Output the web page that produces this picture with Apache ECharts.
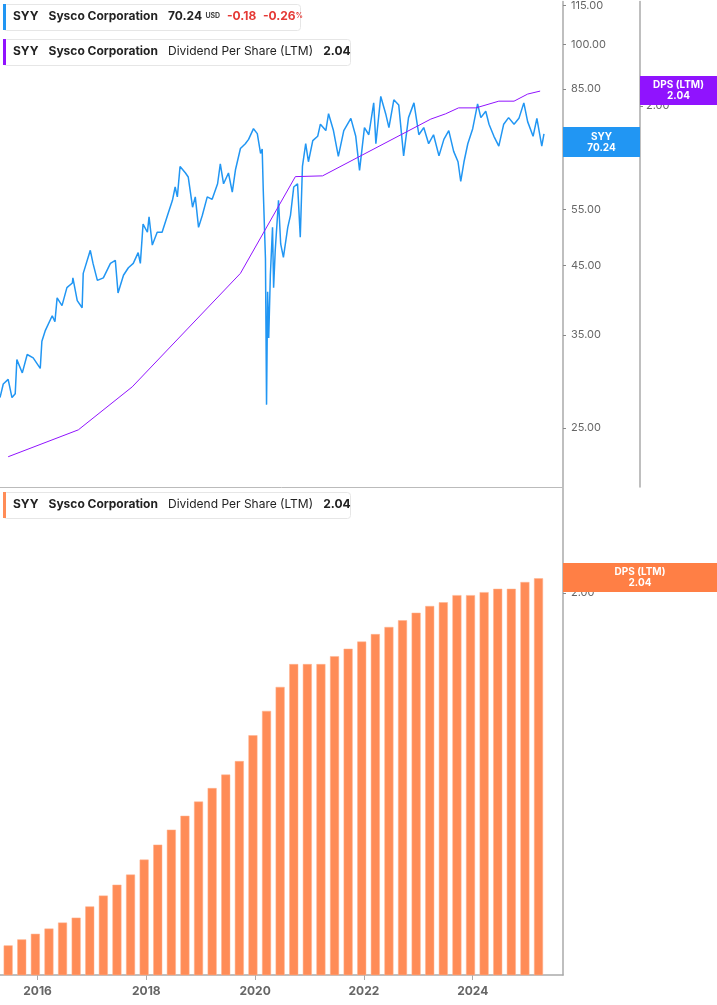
<!DOCTYPE html>
<html>
<head>
<meta charset="utf-8">
<script src="https://cdn.jsdelivr.net/npm/echarts@6/dist/echarts.min.js"></script>
<style>
  html, body { margin: 0; padding: 0; background: #fff; }
  #chart { width: 717px; height: 1005px; }
</style>
</head>
<body>
<div id="chart"></div>
<script>
// Precio de cierre SYY (años decimales / USD)
const priceYears = [2015.31,2015.37,2015.46,2015.53,2015.59,2015.62,2015.72,2015.81,2015.92,2016.05,2016.08,2016.14,2016.27,2016.32,2016.36,2016.45,2016.54,2016.64,2016.65,2016.73,2016.82,2016.84,2016.97,2017.02,2017.10,2017.21,2017.34,2017.43,2017.48,2017.58,2017.67,2017.76,2017.85,2017.89,2017.94,2018.02,2018.05,2018.11,2018.20,2018.29,2018.39,2018.48,2018.53,2018.57,2018.62,2018.72,2018.77,2018.85,2018.90,2018.96,2019.03,2019.12,2019.21,2019.31,2019.36,2019.42,2019.51,2019.58,2019.64,2019.73,2019.82,2019.88,2019.97,2020.04,2020.10,2020.13,2020.15,2020.19,2020.21,2020.23,2020.25,2020.28,2020.32,2020.34,2020.37,2020.43,2020.47,2020.52,2020.60,2020.65,2020.71,2020.78,2020.83,2020.87,2020.93,2020.98,2021.06,2021.15,2021.20,2021.30,2021.35,2021.44,2021.53,2021.63,2021.76,2021.85,2021.92,2022.01,2022.09,2022.18,2022.22,2022.31,2022.40,2022.46,2022.55,2022.64,2022.73,2022.82,2022.92,2023.01,2023.10,2023.19,2023.28,2023.38,2023.47,2023.56,2023.65,2023.73,2023.78,2023.84,2023.91,2024.00,2024.09,2024.15,2024.24,2024.30,2024.39,2024.48,2024.57,2024.66,2024.76,2024.85,2024.94,2025.01,2025.11,2025.18,2025.27,2025.31];
const priceValues = [27.9,29.3,29.8,27.9,28.3,32.0,30.5,32.6,32.2,31.0,34.2,35.5,37.5,36.7,40.0,38.9,41.5,42.2,43.0,39.6,38.6,43.7,47.5,45.3,42.6,43.0,45.3,45.8,40.7,43.4,44.6,45.3,47.1,45.3,52.2,50.7,53.6,48.4,50.7,50.7,53.9,56.9,59.7,57.6,64.3,62.8,61.9,55.5,57.6,51.6,53.9,57.6,57.1,60.4,64.9,60.4,62.8,58.6,63.6,68.6,69.8,70.9,73.7,72.4,67.4,68.5,58.9,46.1,27.2,40.9,34.6,43.4,51.6,41.5,47.5,56.9,48.6,46.3,51.6,53.9,59.7,60.4,49.8,64.3,69.8,65.4,70.6,71.7,74.9,73.2,77.8,73.2,66.7,73.2,76.5,71.7,63.4,74.0,72.1,80.9,69.8,82.8,77.8,74.0,81.8,80.3,66.8,76.7,80.9,72.1,74.0,69.8,72.1,66.8,70.9,73.2,67.9,65.4,60.9,65.4,69.8,73.7,80.6,76.7,78.5,74.9,71.7,69.2,74.9,76.7,74.9,76.5,80.9,75.6,71.7,76.5,69.2,72.3];

// Línea DPS (LTM) del panel superior
const dpsLineYears = [2015.46,2016.75,2017.74,2019.73,2020.74,2021.24,2023.23,2023.50,2023.74,2024.06,2024.48,2024.76,2025.01,2025.24];
const dpsLineValues = [1.061,1.133,1.248,1.552,1.811,1.813,1.965,1.979,1.995,1.995,2.013,2.013,2.032,2.040];

// Barras trimestrales DPS (LTM)
const barYears = [2015.46,2015.71,2015.96,2016.21,2016.46,2016.71,2016.96,2017.21,2017.46,2017.71,2017.96,2018.21,2018.46,2018.71,2018.96,2019.21,2019.46,2019.71,2019.96,2020.21,2020.46,2020.71,2020.96,2021.21,2021.46,2021.71,2021.96,2022.21,2022.46,2022.71,2022.96,2023.21,2023.46,2023.71,2023.96,2024.21,2024.46,2024.71,2024.96,2025.21];
const barValues = [1.059,1.075,1.090,1.104,1.120,1.133,1.163,1.192,1.221,1.248,1.288,1.328,1.368,1.405,1.443,1.479,1.515,1.551,1.620,1.685,1.749,1.810,1.810,1.810,1.831,1.851,1.870,1.890,1.909,1.927,1.947,1.965,1.975,1.994,1.994,2.002,2.011,2.011,2.029,2.039];

const yearTicks = [2016, 2018, 2020, 2022, 2024];
const priceTicks = [25, 35, 45, 55, 70, 85, 100, 115];

const BLUE = '#2196f3', PURPLE = '#9013fe', ORANGE = '#ff8c57';
const FONT = 'Inter, "Noto Sans", sans-serif';

const chart = echarts.init(document.getElementById('chart'));

const pairs = (xs, ys) => xs.map((x, i) => [x, ys[i]]);

function legendBox(y, w, color, parts) {
  return [
    { type: 'rect', left: 3, top: y, shape: { width: w, height: 26, r: 3 },
      style: { fill: '#fff', stroke: '#e6e6e6', lineWidth: 1 }, z: 50 },
    { type: 'rect', left: 3, top: y, shape: { width: 3, height: 26 }, style: { fill: color }, z: 51 },
    { type: 'text', left: 13, top: y + 6, z: 52,
      style: { text: parts, font: '12px ' + FONT, fill: '#222',
        rich: {
          b: { fontWeight: 'bold', fontSize: 12, fontFamily: FONT, fill: '#222' },
          n: { fontSize: 12, fontFamily: FONT, fill: '#222' },
          s: { fontSize: 7, fontFamily: FONT, fill: '#444', fontWeight: 'bold' },
          r: { fontSize: 12, fontFamily: FONT, fill: '#e53935', fontWeight: 'bold' },
          rs: { fontSize: 7, fontFamily: FONT, fill: '#e53935', fontWeight: 'bold' }
        } } }
  ];
}

function tag(x, y, w, h, color, t) {
  return [
    { type: 'rect', left: x, top: y, shape: { width: w, height: h }, style: { fill: color }, z: 60 },
    { type: 'text', x: x + w / 2, y: y + h / 2, z: 61,
      style: { text: t, fill: '#fff', font: 'bold 10px ' + FONT, align: 'center', verticalAlign: 'middle', lineHeight: 11 } }
  ];
}

const option = {
  animation: false,
  grid: [
    { left: 0, right: 154, top: 0, height: 487 },
    { left: 0, right: 154, top: 488, height: 487 }
  ],
  xAxis: [
    { type: 'value', gridIndex: 0, min: 2015.31, max: 2025.66, axisLabel: { show: false },
      axisTick: { show: false }, splitLine: { show: false },
      axisLine: { lineStyle: { color: '#bbb' } } },
    { type: 'value', gridIndex: 1, min: 2015.31, max: 2025.66, splitLine: { show: false },
      axisLine: { lineStyle: { color: '#aaa', width: 1.5 } },
      axisTick: { customValues: yearTicks, lineStyle: { color: '#aaa' }, length: 5 },
      axisLabel: { customValues: yearTicks, color: '#666', fontWeight: 'bold', fontSize: 12, fontFamily: FONT, margin: 10,
        formatter: v => String(v) } }
  ],
  yAxis: [
    { type: 'log', gridIndex: 0, position: 'right', min: 20.2, max: 116.7, splitLine: { show: false },
      axisLine: { show: true, lineStyle: { color: '#aaa', width: 1.5 } },
      axisTick: { show: true, customValues: priceTicks, inside: false, length: 3, lineStyle: { color: '#888' } },
      axisLabel: { customValues: priceTicks, color: '#666', fontSize: 11, fontFamily: FONT, margin: 8,
        formatter: v => v.toFixed(2) } },
    { type: 'value', gridIndex: 0, position: 'right', offset: 77, min: 0.98, max: 2.28, splitLine: { show: false },
      axisLine: { show: true, lineStyle: { color: '#aaa', width: 1.5 } },
      axisTick: { show: true, customValues: [2.0], length: 3, lineStyle: { color: '#888' } },
      axisLabel: { customValues: [2.0], color: '#666', fontSize: 11, fontFamily: FONT, margin: 6,
        formatter: v => v.toFixed(2) } },
    { type: 'value', gridIndex: 1, position: 'right', min: 0.98, max: 2.28, splitLine: { show: false },
      axisLine: { show: true, lineStyle: { color: '#aaa', width: 1.5 } },
      axisTick: { show: true, customValues: [2.0], length: 3, lineStyle: { color: '#888' } },
      axisLabel: { customValues: [2.0], color: '#666', fontSize: 11, fontFamily: FONT, margin: 8,
        formatter: v => v.toFixed(2) } }
  ],
  series: [
    { type: 'line', xAxisIndex: 0, yAxisIndex: 0, data: pairs(priceYears, priceValues),
      showSymbol: false, lineStyle: { color: BLUE, width: 1.5 }, z: 3 },
    { type: 'line', xAxisIndex: 0, yAxisIndex: 1, data: pairs(dpsLineYears, dpsLineValues),
      showSymbol: false, lineStyle: { color: PURPLE, width: 1 }, z: 4 },
    { type: 'bar', xAxisIndex: 1, yAxisIndex: 2, data: pairs(barYears, barValues),
      barWidth: 9, itemStyle: { color: ORANGE, borderColor: '#ffb38f', borderWidth: 0.5 } }
  ],
  graphic: [
    ...legendBox(4, 297, BLUE,
      '{b|SYY}   {b|Sysco Corporation}   {b|70.24} {s|USD}  {r|-0.18}  {r|-0.26}{rs|%}'),
    ...legendBox(39, 347, PURPLE, '{b|SYY}   {b|Sysco Corporation}   {n|Dividend Per Share (LTM)}   {b|2.04}'),
    ...legendBox(492, 347, ORANGE, '{b|SYY}   {b|Sysco Corporation}   {n|Dividend Per Share (LTM)}   {b|2.04}'),
    ...tag(563, 127, 77, 30, BLUE, 'SYY\n70.24'),
    ...tag(640, 76, 77, 29, PURPLE, 'DPS (LTM)\n2.04'),
    ...tag(563, 563, 154, 29, '#ff7f45', 'DPS (LTM)\n2.04')
  ]
};

chart.setOption(option);
</script>
</body>
</html>
